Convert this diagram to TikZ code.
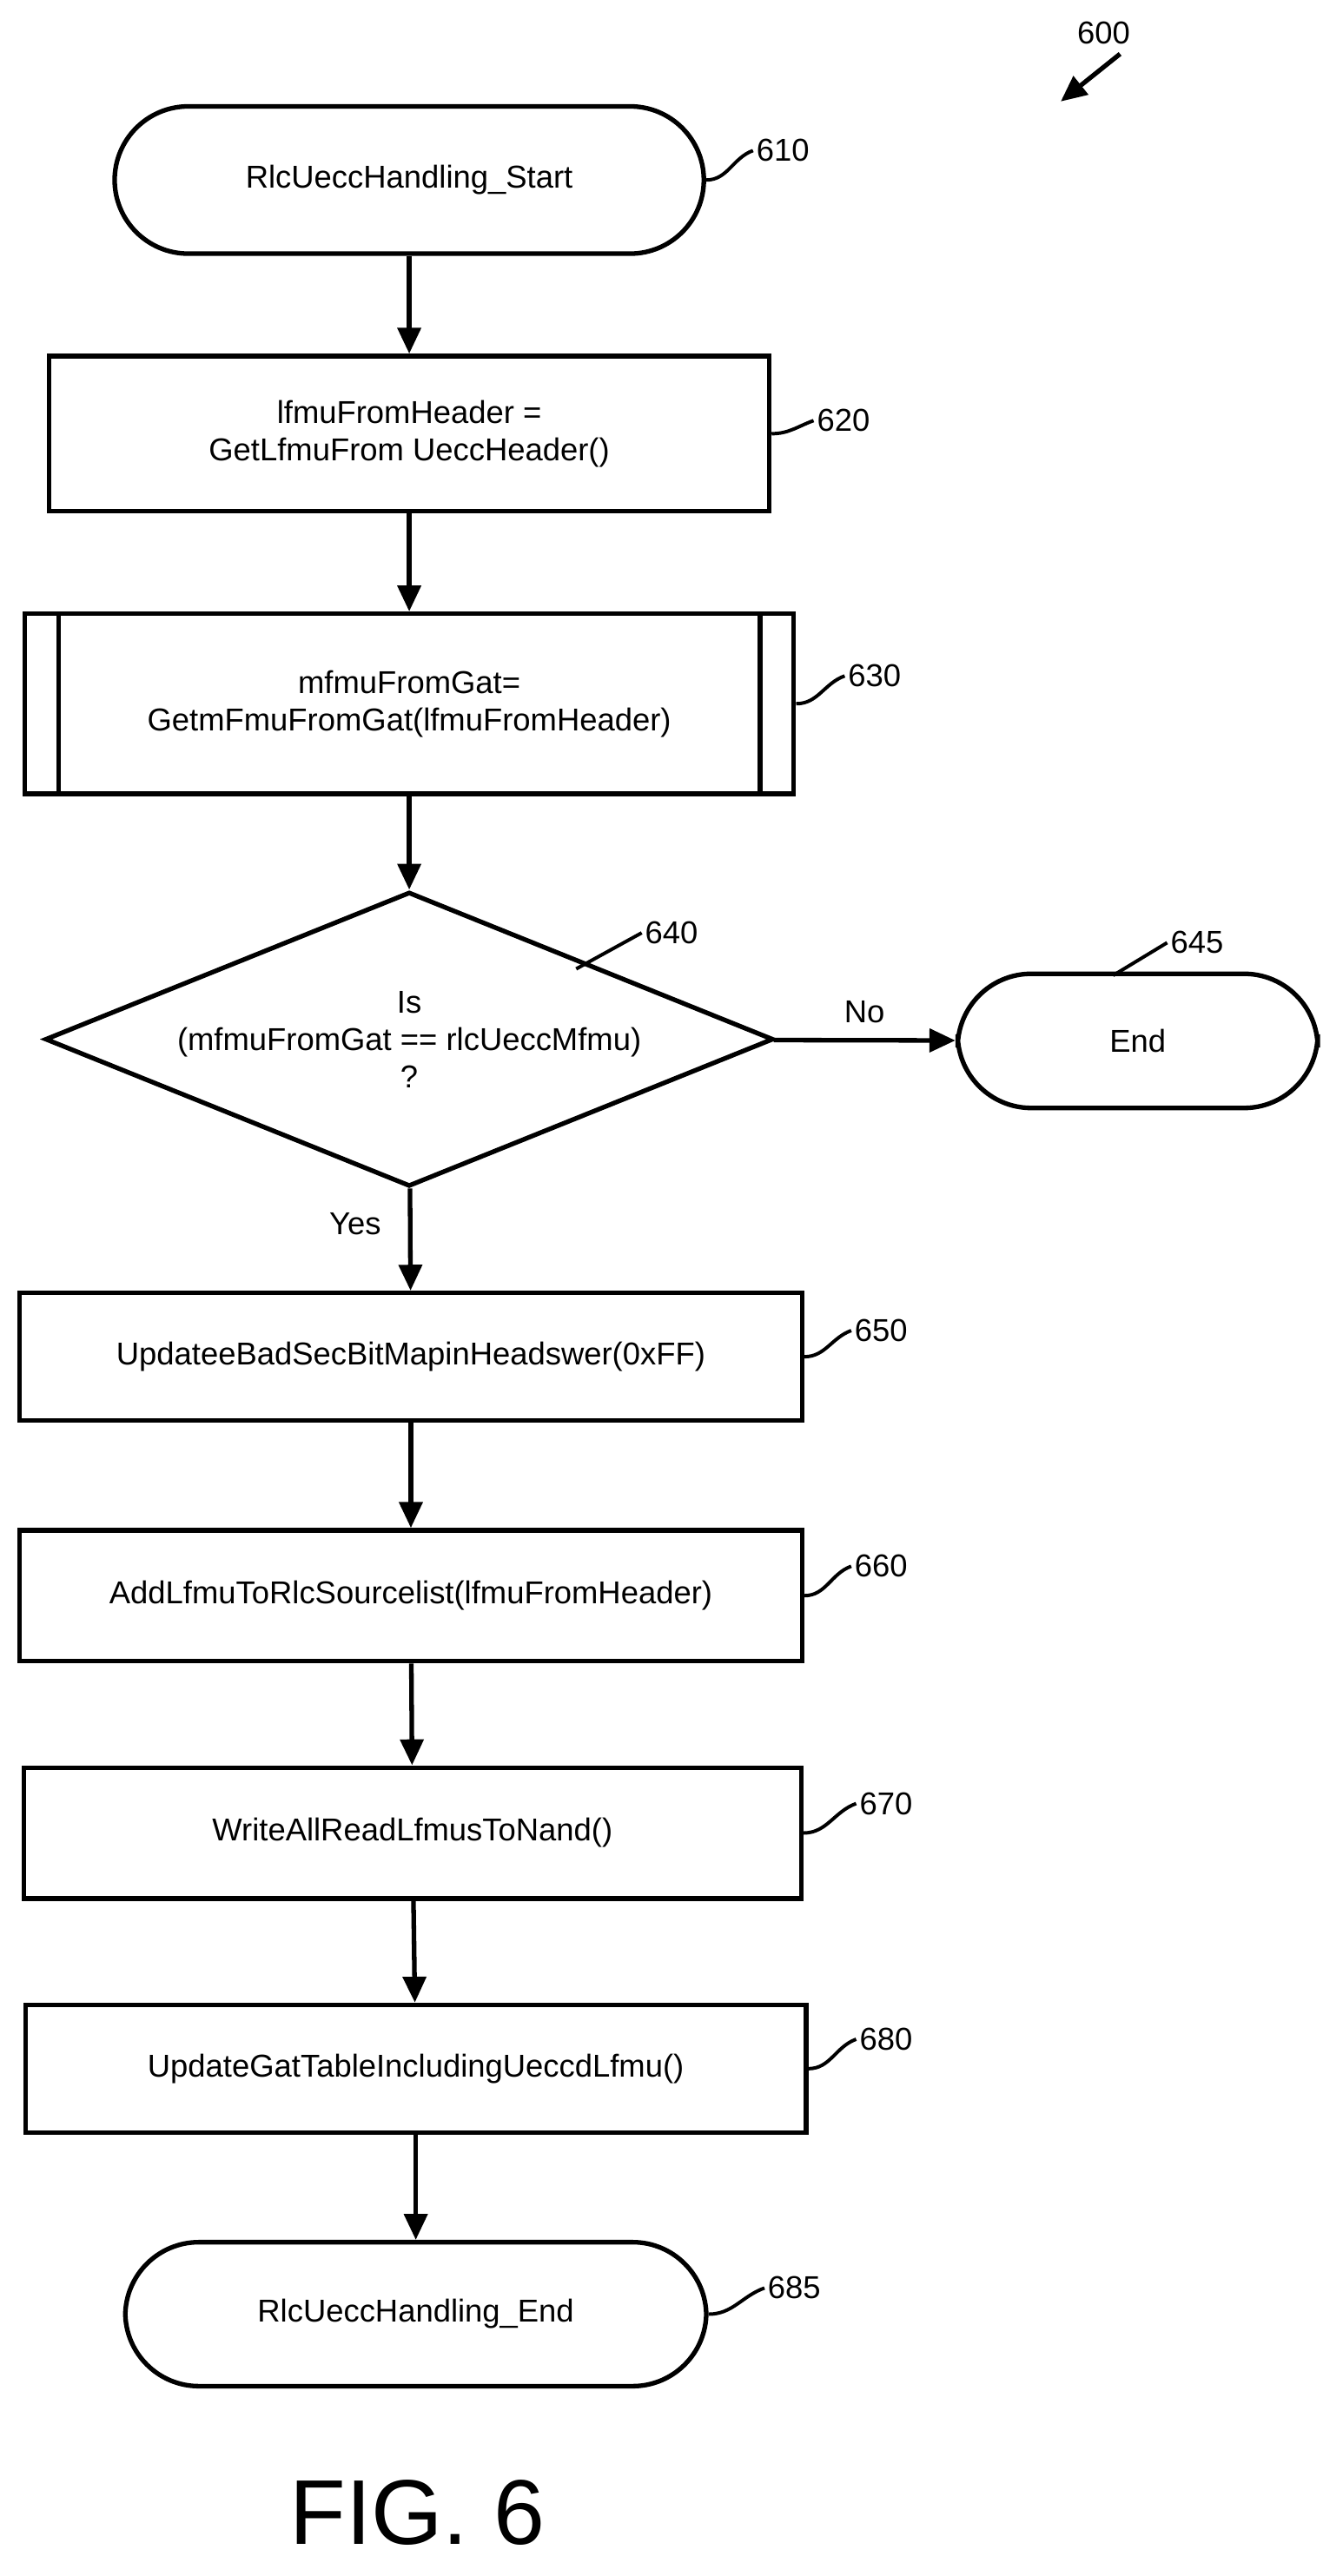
\documentclass[tikz,border=0pt]{standalone}
\usepackage{fontspec}
\setmainfont{Liberation Sans}
\usetikzlibrary{shapes, shapes.geometric, arrows.meta, calc}
\begin{document}
\begin{tikzpicture}[x=0.02cm, y=-0.02cm]
        \tikzstyle{blk}=[draw, line width=1.6pt, font=\fontsize{11}{13}\selectfont, align=center, inner sep=0pt]
        \tikzstyle{term}=[blk, rounded corners=0.9cm]
        \tikzstyle{ref}=[font=\fontsize{11}{13}\selectfont, anchor=west, inner sep=1pt]
        \tikzstyle{arrow} = [-{Triangle[length=9pt, width=8pt]}, line width=1.6pt]
        \tikzstyle{lead} = [line width=1.2pt]

        \useasboundingbox (0,0) rectangle (820,1574);

        \node[term, minimum width=7.2cm, minimum height=1.8cm] (start) at (250,110) {RlcUeccHandling\_Start};
        \node[blk, minimum width=8.8cm, minimum height=1.9cm] (hdr) at (250,265) {lfmuFromHeader =\\GetLfmuFrom UeccHeader()};
        \node[blk, minimum width=9.4cm, minimum height=2.2cm] (gat) at (250,430) {mfmuFromGat=\\GetmFmuFromGat(lfmuFromHeader)};
        \node[blk, diamond, aspect=2.47, minimum width=8.9cm, minimum height=3.6cm] (cmp) at (250,635) {Is\\(mfmuFromGat == rlcUeccMfmu)\\?};
        \node[term, minimum width=4.4cm, minimum height=1.64cm] (end) at (695,636) {End};
        \node[blk, minimum width=9.56cm, minimum height=1.56cm] (bad) at (251,829) {UpdateeBadSecBitMapinHeadswer(0xFF)};
        \node[blk, minimum width=9.56cm, minimum height=1.6cm] (src) at (251,975) {AddLfmuToRlcSourcelist(lfmuFromHeader)};
        \node[blk, minimum width=9.5cm, minimum height=1.6cm] (nand) at (252,1120) {WriteAllReadLfmusToNand()};
        \node[blk, minimum width=9.54cm, minimum height=1.56cm] (tbl) at (254,1264) {UpdateGatTableIncludingUeccdLfmu()};
        \node[term, minimum width=7.1cm, minimum height=1.76cm] (stop) at (254,1414) {RlcUeccHandling\_End};

        \draw[line width=1.6pt] ($(gat.north west)+(0.44cm,0)$) -- ($(gat.south west)+(0.44cm,0)$);
        \draw[line width=1.6pt] ($(gat.north east)+(-0.44cm,0)$) -- ($(gat.south east)+(-0.44cm,0)$);

        \node[ref] (r610) at (460,92) {610};
        \node[ref] (r620) at (497,257) {620};
        \node[ref] (r630) at (516,413) {630};
        \node[ref] (r640) at (392,570) {640};
        \node[ref] (r645) at (713,576) {645};
        \node[ref] (r650) at (520,813) {650};
        \node[ref] (r660) at (520,957) {660};
        \node[ref] (r670) at (523,1102) {670};
        \node[ref] (r680) at (523,1246) {680};
        \node[ref] (r685) at (467,1398) {685};
        \node[ref] (r600) at (656,20) {600};
        \node[font=\fontsize{32}{36}\selectfont] (fig) at (255,1535) {FIG. 6};
        \coordinate (a600) at (648,62);

        \draw[lead] (start.east) to[out=0, in=200] (r610.west);
        \draw[lead] (hdr.east) to[out=0, in=200] (r620.west);
        \draw[lead] (gat.east) to[out=0, in=200] (r630.west);
        \draw[lead] (352,592) -- (r640.west);
        \draw[lead] (680,596) -- (r645.west);
        \draw[lead] (bad.east) to[out=0, in=200] (r650.west);
        \draw[lead] (src.east) to[out=0, in=200] (r660.west);
        \draw[lead] (nand.east) to[out=0, in=200] (r670.west);
        \draw[lead] (tbl.east) to[out=0, in=200] (r680.west);
        \draw[lead] (stop.east) to[out=0, in=200] (r685.west);
        \draw[arrow] ($(r600.south)+(10,4)$) -- (a600);

        \draw[arrow] (start) -- (hdr);
        \draw[arrow] (hdr) -- (gat);
        \draw[arrow] (gat) -- (cmp);
        \draw[arrow] (cmp) -- node[above=2pt, font=\fontsize{11}{13}\selectfont] {No} (end);
        \draw[arrow] (cmp) -- node[pos=0.35, left=6pt, font=\fontsize{11}{13}\selectfont] {Yes} (bad);
        \draw[arrow] (bad) -- (src);
        \draw[arrow] (src) -- (nand);
        \draw[arrow] (nand) -- (tbl);
        \draw[arrow] (tbl) -- (stop);
\end{tikzpicture}
\end{document}
